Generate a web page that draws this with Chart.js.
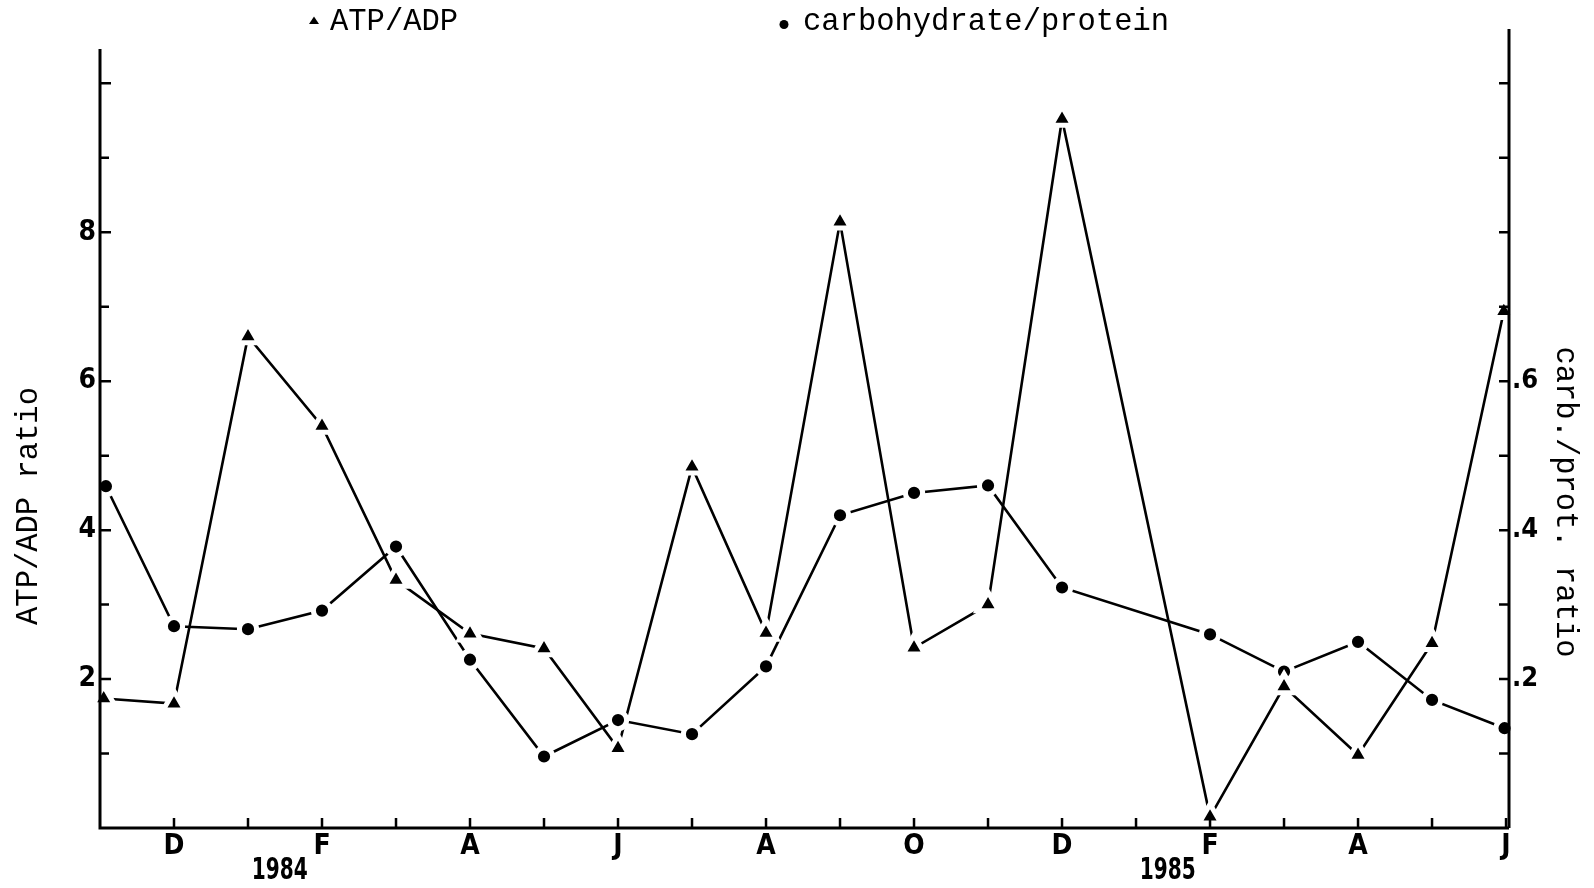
<!DOCTYPE html>
<html>
<head>
<meta charset="utf-8">
<title>ATP/ADP and carbohydrate/protein ratios</title>
<script src="https://cdn.jsdelivr.net/npm/chart.js@4.4.1/dist/chart.umd.min.js"></script>
<style>
  html, body { margin: 0; padding: 0; background: #fff; }
  #wrap { width: 1594px; height: 888px; }
</style>
</head>
<body>
<div id="wrap"><canvas id="ratios"></canvas></div>
<script>
// months counted from November 1983 (0) to June 1985 (19); no sample in January 1985
const atpMonths = [0.05, 1, 2, 3, 4, 5, 6, 7, 8, 9, 10, 11, 12, 13, 15, 16, 17, 18, 18.97];
const atpRatio = [1.74, 1.67, 6.6, 5.4, 3.33, 2.61, 2.41, 1.07, 4.85, 2.62, 8.14, 2.42, 3.0, 9.52, 0.15, 1.9, 0.98, 2.48, 6.94];

const carbMonths = [0.08, 1, 2, 3, 4, 5, 6, 7, 8, 9, 10, 11, 12, 13, 15, 16, 17, 18, 18.98];
const carbRatio = [0.459, 0.271, 0.267, 0.292, 0.378, 0.226, 0.096, 0.145, 0.126, 0.217, 0.42, 0.45, 0.46, 0.323, 0.26, 0.21, 0.25, 0.172, 0.134];

const monthLetters = ['', 'D', '', 'F', '', 'A', '', 'J', '', 'A', '', 'O', '', 'D', '', 'F', '', 'A', '', 'J'];
const yearLabels = ['1984', '1985'];
const atpTickLabels = [2, 4, 6, 8];
const carbTickLabels = [0.2, 0.4, 0.6];

const mono = '"Liberation Mono", "Courier New", monospace';
const narrow = '"Liberation Sans Narrow", "DejaVu Sans Condensed", "Roboto Condensed", sans-serif';

// where the year captions sit on the month axis, and where the left axis line stops
const yearAt = [2.43, 14.43];
const leftAxisTop = 10.46;

const toPoints = (xs, ys) => xs.map((x, i) => ({ x: x, y: ys[i] }));

// axis lines, inward tick marks, years, axis titles and the key
const decorations = {
  id: 'decorations',
  afterDraw(chart) {
    const { ctx, chartArea: a, scales } = chart;
    const { x, y, y2 } = scales;
    ctx.save();
    ctx.strokeStyle = '#000';
    ctx.fillStyle = '#000';

    ctx.lineWidth = 3;
    ctx.beginPath();
    ctx.moveTo(a.left, y.getPixelForValue(leftAxisTop));
    ctx.lineTo(a.left, a.bottom);
    ctx.lineTo(a.right, a.bottom);
    ctx.moveTo(a.right, a.top);
    ctx.lineTo(a.right, a.bottom);
    ctx.stroke();

    ctx.lineWidth = 2.5;
    ctx.beginPath();
    for (let m = 1; m <= 19; m++) {
      const px = x.getPixelForValue(m);
      ctx.moveTo(px, a.bottom);
      ctx.lineTo(px, a.bottom - 10);
    }
    for (let v = 1; v <= 10; v++) {
      const py = y.getPixelForValue(v);
      ctx.moveTo(a.left, py);
      ctx.lineTo(a.left + (v % 2 === 0 ? 11 : 9), py);
    }
    for (let k = 1; k <= 10; k++) {
      const py = y2.getPixelForValue(k / 10);
      ctx.moveTo(a.right, py);
      ctx.lineTo(a.right - 10, py);
    }
    ctx.stroke();

    ctx.font = 'bold 28px ' + narrow;
    ctx.textAlign = 'center';
    ctx.textBaseline = 'middle';
    yearLabels.forEach((yr, i) => {
      // years are set in a tighter, taller face than the month letters
      ctx.save();
      ctx.translate(x.getPixelForValue(yearAt[i]), 871);
      ctx.scale(0.8, 1.05);
      ctx.fillText(yr, 0, 0);
      ctx.restore();
    });

    ctx.font = '30.5px ' + mono;
    ctx.textBaseline = 'alphabetic';

    ctx.save();
    ctx.translate(37, 506);
    ctx.rotate(-Math.PI / 2);
    ctx.fillText('ATP/ADP ratio', 0, 0);
    ctx.restore();

    ctx.save();
    ctx.translate(1557, 502);
    ctx.rotate(Math.PI / 2);
    ctx.fillText('carb./prot. ratio', 0, 0);
    ctx.restore();

    ctx.textAlign = 'left';
    ctx.fillText(chart.data.datasets[0].label, 330, 29.5);
    ctx.fillText(chart.data.datasets[1].label, 803, 29.5);

    ctx.beginPath();
    ctx.moveTo(314, 16.5);
    ctx.lineTo(319, 24);
    ctx.lineTo(309, 24);
    ctx.closePath();
    ctx.fill();

    ctx.beginPath();
    ctx.arc(784, 24.5, 4.5, 0, Math.PI * 2);
    ctx.fill();

    ctx.restore();
  }
};

new Chart(document.getElementById('ratios'), {
  type: 'line',
  data: {
    datasets: [
      {
        label: 'ATP/ADP',
        data: toPoints(atpMonths, atpRatio),
        yAxisID: 'y',
        borderColor: '#000',
        borderWidth: 2.6,
        pointRadius: 0,
        clip: false,
        order: 2
      },
      {
        label: 'carbohydrate/protein',
        data: toPoints(carbMonths, carbRatio),
        yAxisID: 'y2',
        borderColor: '#000',
        borderWidth: 2.6,
        pointRadius: 0,
        clip: false,
        order: 2
      },
      // markers on top, with a white rim that breaks the lines around them
      {
        label: 'ATP/ADP markers',
        data: toPoints(atpMonths, atpRatio),
        yAxisID: 'y',
        showLine: false,
        pointStyle: 'triangle',
        pointRadius: 12.5,
        pointBackgroundColor: '#000',
        pointBorderColor: '#fff',
        pointBorderWidth: 5,
        clip: false,
        order: 1
      },
      {
        label: 'carbohydrate/protein markers',
        data: toPoints(carbMonths, carbRatio),
        yAxisID: 'y2',
        showLine: false,
        pointStyle: 'circle',
        pointRadius: 8.6,
        pointBackgroundColor: '#000',
        pointBorderColor: '#fff',
        pointBorderWidth: 5,
        clip: false,
        order: 1
      }
    ]
  },
  options: {
    responsive: true,
    maintainAspectRatio: false,
    animation: false,
    events: [],
    layout: { padding: { top: 29, left: 0, right: 0, bottom: 0 } },
    plugins: {
      legend: { display: false },
      tooltip: { enabled: false }
    },
    scales: {
      x: {
        type: 'linear',
        min: 0,
        max: 19.04,
        grid: { display: false, drawTicks: false },
        border: { display: false },
        ticks: {
          stepSize: 1,
          includeBounds: false,
          autoSkip: false,
          maxRotation: 0,
          padding: 2,
          color: '#000',
          font: { family: narrow, size: 28, weight: 'bold' },
          callback: (v) => monthLetters[v] || ''
        },
        afterFit: (s) => { s.height = 60; }
      },
      y: {
        position: 'left',
        min: 0,
        max: 10.73,
        grid: { display: false, drawTicks: false },
        border: { display: false },
        ticks: {
          stepSize: 1,
          includeBounds: false,
          autoSkip: false,
          padding: 4,
          color: '#000',
          font: { family: narrow, size: 28, weight: 'bold' },
          callback: (v) => atpTickLabels.includes(v) ? String(v) : ''
        },
        afterFit: (s) => { s.width = 100; }
      },
      y2: {
        position: 'right',
        min: 0,
        max: 1.073,
        grid: { display: false, drawTicks: false },
        border: { display: false },
        ticks: {
          stepSize: 0.1,
          includeBounds: false,
          autoSkip: false,
          padding: 3,
          color: '#000',
          font: { family: narrow, size: 27, weight: 'bold' },
          callback: (v) => carbTickLabels.some((t) => Math.abs(t - v) < 1e-6) ? v.toFixed(1).slice(1) : ''
        },
        afterFit: (s) => { s.width = 85; }
      }
    }
  },
  plugins: [decorations]
});
</script>
</body>
</html>
